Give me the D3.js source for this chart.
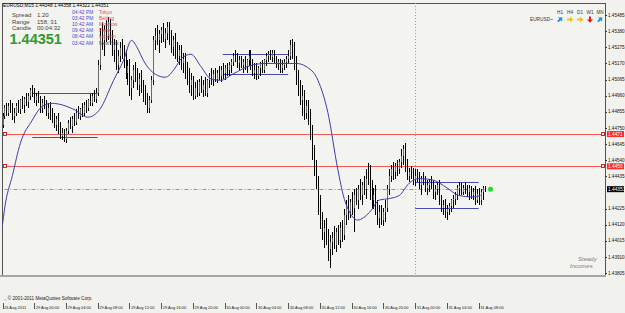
<!DOCTYPE html>
<html>
<head>
<meta charset="utf-8">
<script src="https://cdn.jsdelivr.net/npm/d3@7"></script>
<style>
	body { margin: 0; background: #f1f1ed; }
	svg { display: block; }
	text { font-family: 'Liberation Sans', Arial, sans-serif; }
</style>
</head>
<body>
<div id="chart"></div>
<script>
// ? EURUSD M15, one row per bar: open, high, low, close
const ohlc = [
	[1.4477,1.4485,1.4475,1.4483],[1.4483,1.4490,1.4481,1.4488],[1.4488,1.4491,1.4483,1.4485],[1.4485,1.4491,1.4483,1.4489],
	[1.4489,1.4493,1.4485,1.4487],[1.4487,1.4491,1.4480,1.4483],[1.4483,1.4488,1.4478,1.4485],[1.4485,1.4491,1.4483,1.4489],
	[1.4489,1.4493,1.4485,1.4487],[1.4487,1.4494,1.4484,1.4493],[1.4493,1.4496,1.4487,1.4490],[1.4490,1.4495,1.4485,1.4494],
	[1.4494,1.4498,1.4489,1.4492],[1.4492,1.4498,1.4488,1.4496],[1.4496,1.4501,1.4493,1.4500],[1.4500,1.4503,1.4495,1.4498],
	[1.4498,1.4501,1.4491,1.4493],[1.4493,1.4498,1.4489,1.4496],[1.4496,1.4499,1.4491,1.4493],[1.4493,1.4496,1.4485,1.4488],
	[1.4488,1.4494,1.4485,1.4491],[1.4491,1.4496,1.4487,1.4489],[1.4489,1.4493,1.4483,1.4485],[1.4485,1.4491,1.4481,1.4488],
	[1.4488,1.4492,1.4480,1.4483],[1.4483,1.4488,1.4478,1.4480],[1.4480,1.4485,1.4475,1.4477],[1.4477,1.4483,1.4473,1.4481],
	[1.4481,1.4485,1.4471,1.4474],[1.4474,1.4479,1.4468,1.4470],[1.4470,1.4475,1.4467,1.4472],[1.4472,1.4474,1.4466,1.4468],
	[1.4468,1.4475,1.4465,1.4473],[1.4473,1.4480,1.4471,1.4478],[1.4478,1.4482,1.4474,1.4476],[1.4476,1.4483,1.4472,1.4481],
	[1.4481,1.4485,1.4476,1.4479],[1.4479,1.4487,1.4477,1.4485],[1.4485,1.4489,1.4481,1.4483],[1.4483,1.4488,1.4480,1.4487],
	[1.4487,1.4491,1.4482,1.4485],[1.4485,1.4492,1.4483,1.4490],[1.4490,1.4493,1.4485,1.4488],[1.4488,1.4494,1.4486,1.4493],
	[1.4493,1.4497,1.4489,1.4491],[1.4491,1.4498,1.4489,1.4496],[1.4496,1.4500,1.4492,1.4494],[1.4494,1.4501,1.4491,1.4498],
	[1.4498,1.4519,1.4496,1.4516],[1.4516,1.4540,1.4513,1.4535],[1.4535,1.4544,1.4526,1.4532],[1.4532,1.4542,1.4522,1.4539],
	[1.4539,1.4545,1.4531,1.4535],[1.4535,1.4547,1.4532,1.4544],[1.4544,1.4546,1.4529,1.4532],[1.4532,1.4539,1.4522,1.4526],
	[1.4526,1.4533,1.4518,1.4529],[1.4529,1.4532,1.4513,1.4516],[1.4516,1.4526,1.4511,1.4522],[1.4522,1.4531,1.4518,1.4527],
	[1.4527,1.4533,1.4520,1.4524],[1.4524,1.4529,1.4514,1.4518],[1.4518,1.4526,1.4507,1.4511],[1.4511,1.4519,1.4503,1.4515],
	[1.4515,1.4520,1.4496,1.4501],[1.4501,1.4509,1.4493,1.4506],[1.4506,1.4516,1.4501,1.4513],[1.4513,1.4518,1.4505,1.4507],
	[1.4507,1.4514,1.4500,1.4503],[1.4503,1.4511,1.4496,1.4507],[1.4507,1.4513,1.4498,1.4501],[1.4501,1.4506,1.4492,1.4496],
	[1.4496,1.4503,1.4490,1.4493],[1.4493,1.4498,1.4485,1.4488],[1.4488,1.4496,1.4485,1.4493],[1.4493,1.4509,1.4491,1.4506],
	[1.4506,1.4535,1.4503,1.4532],[1.4532,1.4540,1.4526,1.4535],[1.4535,1.4542,1.4529,1.4532],[1.4532,1.4539,1.4524,1.4536],
	[1.4536,1.4541,1.4530,1.4539],[1.4539,1.4543,1.4531,1.4533],[1.4533,1.4540,1.4527,1.4537],[1.4537,1.4544,1.4532,1.4541],
	[1.4541,1.4544,1.4529,1.4532],[1.4532,1.4539,1.4524,1.4528],[1.4528,1.4535,1.4522,1.4532],[1.4532,1.4537,1.4520,1.4524],
	[1.4524,1.4531,1.4518,1.4522],[1.4522,1.4529,1.4516,1.4526],[1.4526,1.4529,1.4513,1.4517],[1.4517,1.4524,1.4511,1.4520],
	[1.4520,1.4524,1.4507,1.4511],[1.4511,1.4518,1.4503,1.4507],[1.4507,1.4514,1.4498,1.4503],[1.4503,1.4511,1.4496,1.4506],
	[1.4506,1.4509,1.4493,1.4496],[1.4496,1.4505,1.4494,1.4501],[1.4501,1.4506,1.4495,1.4498],[1.4498,1.4507,1.4496,1.4505],
	[1.4505,1.4509,1.4498,1.4500],[1.4500,1.4506,1.4495,1.4503],[1.4503,1.4508,1.4496,1.4498],[1.4498,1.4507,1.4495,1.4506],
	[1.4506,1.4511,1.4501,1.4509],[1.4509,1.4514,1.4503,1.4506],[1.4506,1.4513,1.4502,1.4510],[1.4510,1.4514,1.4505,1.4507],
	[1.4507,1.4513,1.4504,1.4511],[1.4511,1.4515,1.4506,1.4509],[1.4509,1.4515,1.4505,1.4513],[1.4513,1.4517,1.4507,1.4511],
	[1.4511,1.4516,1.4506,1.4514],[1.4514,1.4517,1.4509,1.4513],[1.4513,1.4518,1.4509,1.4516],[1.4516,1.4520,1.4511,1.4518],
	[1.4518,1.4524,1.4515,1.4522],[1.4522,1.4526,1.4518,1.4520],[1.4520,1.4524,1.4514,1.4517],[1.4517,1.4522,1.4513,1.4519],
	[1.4519,1.4522,1.4514,1.4516],[1.4516,1.4520,1.4511,1.4518],[1.4518,1.4522,1.4513,1.4515],[1.4515,1.4520,1.4511,1.4519],
	[1.4519,1.4526,1.4515,1.4522],[1.4522,1.4526,1.4513,1.4515],[1.4515,1.4520,1.4509,1.4511],[1.4511,1.4517,1.4507,1.4513],
	[1.4513,1.4517,1.4506,1.4509],[1.4509,1.4515,1.4507,1.4514],[1.4514,1.4518,1.4509,1.4517],[1.4517,1.4519,1.4511,1.4513],
	[1.4513,1.4520,1.4511,1.4519],[1.4519,1.4524,1.4515,1.4522],[1.4522,1.4525,1.4518,1.4523],[1.4523,1.4526,1.4519,1.4521],
	[1.4521,1.4526,1.4518,1.4524],[1.4524,1.4526,1.4517,1.4519],[1.4519,1.4522,1.4514,1.4517],[1.4517,1.4520,1.4513,1.4518],
	[1.4518,1.4520,1.4511,1.4514],[1.4514,1.4519,1.4511,1.4516],[1.4516,1.4520,1.4513,1.4518],[1.4518,1.4522,1.4514,1.4520],
	[1.4520,1.4526,1.4517,1.4522],[1.4522,1.4532,1.4519,1.4529],[1.4529,1.4533,1.4520,1.4526],[1.4526,1.4531,1.4513,1.4516],
	[1.4516,1.4522,1.4503,1.4506],[1.4506,1.4513,1.4496,1.4500],[1.4500,1.4506,1.4490,1.4493],[1.4493,1.4503,1.4483,1.4496],
	[1.4496,1.4500,1.4480,1.4485],[1.4485,1.4493,1.4481,1.4489],[1.4489,1.4493,1.4477,1.4480],[1.4480,1.4487,1.4467,1.4470],
	[1.4470,1.4477,1.4454,1.4457],[1.4457,1.4464,1.4444,1.4448],[1.4448,1.4454,1.4435,1.4438],[1.4438,1.4444,1.4418,1.4425],
	[1.4425,1.4431,1.4409,1.4414],[1.4414,1.4420,1.4402,1.4407],[1.4407,1.4415,1.4397,1.4410],[1.4410,1.4416,1.4399,1.4402],
	[1.4402,1.4409,1.4388,1.4396],[1.4396,1.4405,1.4384,1.4401],[1.4401,1.4407,1.4392,1.4403],[1.4403,1.4411,1.4396,1.4399],
	[1.4399,1.4410,1.4394,1.4407],[1.4407,1.4412,1.4399,1.4402],[1.4402,1.4414,1.4397,1.4410],[1.4410,1.4415,1.4401,1.4405],
	[1.4405,1.4422,1.4402,1.4418],[1.4418,1.4428,1.4412,1.4425],[1.4425,1.4431,1.4415,1.4420],[1.4420,1.4429,1.4416,1.4427],
	[1.4427,1.4433,1.4418,1.4423],[1.4423,1.4435,1.4407,1.4431],[1.4431,1.4436,1.4425,1.4428],[1.4428,1.4438,1.4422,1.4435],
	[1.4435,1.4442,1.4428,1.4431],[1.4431,1.4440,1.4425,1.4438],[1.4438,1.4444,1.4431,1.4435],[1.4435,1.4448,1.4429,1.4442],
	[1.4442,1.4452,1.4438,1.4441],[1.4441,1.4451,1.4428,1.4431],[1.4431,1.4441,1.4423,1.4428],[1.4428,1.4436,1.4422,1.4431],
	[1.4431,1.4438,1.4418,1.4422],[1.4422,1.4428,1.4412,1.4416],[1.4416,1.4425,1.4410,1.4420],[1.4420,1.4425,1.4412,1.4415],
	[1.4415,1.4423,1.4411,1.4420],[1.4420,1.4428,1.4414,1.4423],[1.4423,1.4438,1.4420,1.4435],[1.4435,1.4448,1.4431,1.4444],
	[1.4444,1.4451,1.4440,1.4448],[1.4448,1.4453,1.4441,1.4446],[1.4446,1.4452,1.4442,1.4450],[1.4450,1.4454,1.4444,1.4448],
	[1.4448,1.4455,1.4445,1.4453],[1.4453,1.4461,1.4449,1.4457],[1.4457,1.4464,1.4451,1.4461],[1.4461,1.4465,1.4446,1.4451],
	[1.4451,1.4455,1.4441,1.4444],[1.4444,1.4449,1.4440,1.4446],[1.4446,1.4450,1.4442,1.4444],[1.4444,1.4449,1.4438,1.4441],
	[1.4441,1.4448,1.4437,1.4444],[1.4444,1.4448,1.4440,1.4441],[1.4441,1.4446,1.4435,1.4438],[1.4438,1.4444,1.4431,1.4442],
	[1.4442,1.4446,1.4438,1.4440],[1.4440,1.4444,1.4433,1.4436],[1.4436,1.4441,1.4431,1.4438],[1.4438,1.4442,1.4433,1.4440],
	[1.4440,1.4444,1.4435,1.4437],[1.4437,1.4441,1.4429,1.4433],[1.4433,1.4438,1.4428,1.4435],[1.4435,1.4440,1.4431,1.4438],
	[1.4438,1.4441,1.4425,1.4428],[1.4428,1.4431,1.4420,1.4423],[1.4423,1.4428,1.4418,1.4425],[1.4425,1.4429,1.4416,1.4420],
	[1.4420,1.4425,1.4415,1.4422],[1.4422,1.4426,1.4418,1.4424],[1.4424,1.4429,1.4420,1.4428],[1.4428,1.4431,1.4423,1.4429],
	[1.4429,1.4433,1.4425,1.4431],[1.4431,1.4438,1.4428,1.4436],[1.4436,1.4440,1.4431,1.4437],[1.4437,1.4439,1.4431,1.4433],
	[1.4433,1.4438,1.4431,1.4436],[1.4436,1.4439,1.4432,1.4435],[1.4435,1.4438,1.4430,1.4433],[1.4433,1.4438,1.4428,1.4436],
	[1.4436,1.4437,1.4429,1.4431],[1.4431,1.4436,1.4428,1.4433],[1.4433,1.4437,1.4425,1.4428],[1.4428,1.4435,1.4426,1.4432],
	[1.4432,1.4436,1.4425,1.4428],[1.4428,1.4435,1.4425,1.4433],[1.4433,1.4437,1.4428,1.4436],[1.4436,1.4437,1.4433,1.4435],
]

// ? smoothed line (bar index, price)
const maBars = [0, 1, 5, 9, 15, 20, 25, 30, 36, 43, 49, 56, 61, 65, 68, 71, 77, 82, 87, 90, 95, 100, 105, 110, 116, 126, 133, 141, 148, 153, 159, 164, 169, 172, 175, 179, 185, 190, 195, 200, 205, 210, 217, 224, 230, 237, 241]
const maVals = [1.4412, 1.4422, 1.4444, 1.4465, 1.4480, 1.4489, 1.4491, 1.4490, 1.4487, 1.4482, 1.4487, 1.4506, 1.4519, 1.4532, 1.4527, 1.4519, 1.4510, 1.4508, 1.4514, 1.4520, 1.4523, 1.4515, 1.4507, 1.4506, 1.4510, 1.4516, 1.4517, 1.4517, 1.4517, 1.4515, 1.4506, 1.4485, 1.4448, 1.4430, 1.4420, 1.4415, 1.4420, 1.4428, 1.4429, 1.4431, 1.4439, 1.4442, 1.4441, 1.4436, 1.4431, 1.4430, 1.4431]

// ? range boxes drawn as two flat lines
const boxFrom = [15, 111, 208]
const boxTo = [48, 144, 240]
const boxHigh = [1.4498, 1.4523, 1.4440]
const boxLow = [1.4469, 1.4510, 1.4423]

const redLevels = [1.4471, 1.4450]
const redLabels = ['1.4471', '1.4450']
const bid = 1.44351
const separatorBar = 208
const dotBar = 246

const priceTicks = [1.45485, 1.45380, 1.45275, 1.45170, 1.45065, 1.44960, 1.44855, 1.44750, 1.44645, 1.44540, 1.44435, 1.44330, 1.44225, 1.44120, 1.44015, 1.43910, 1.43805]
const timeTickBars = [0, 16, 32, 48, 64, 80, 96, 112, 128, 144, 160, 176, 192, 208, 224, 240]
const timeLabels = ['26 Aug 2011', '29 Aug 00:00', '29 Aug 04:00', '29 Aug 08:00', '29 Aug 12:00', '29 Aug 16:00', '29 Aug 20:00', '30 Aug 00:00', '30 Aug 04:00', '30 Aug 08:00', '30 Aug 12:00', '30 Aug 16:00', '30 Aug 20:00', '31 Aug 00:00', '31 Aug 04:00', '31 Aug 08:00']

const lastBar = ['1.44348', '1.44358', '1.44322', '1.44351']
const infoNames = ['Spread', 'Range', 'Candle']
const infoValues = ['1.20', '158, 31', '00:04:32']
const sessionTimes = ['04:42 PM', '03:42 PM', '10:42 AM', '09:42 AM', '08:42 AM', '03:42 AM']
const sessionCities = ['Tokyo', 'Beijing', 'Moscow', 'Paris', 'London', 'NewYork']
const trendFrames = ['H1', 'H4', 'D1', 'W1', 'MN']
const trendDirs = [-45, 0, 0, 90, -45] // ? arrow rotation in degrees
const trendColors = ['#1e90ff', '#f5c400', '#f5c400', '#ee1111', '#1e90ff']

const width = 625
const height = 313
const frameL = 2
const frameR = 605
const frameT = 3
const frameB = 275

const x = d3.scaleLinear().domain([0, 243]).range([2.5, 484.6])
const y = d3.scaleLinear().domain([1.43792, 1.45557]).range([frameB, 4])

const svg = d3
	.create('svg')
	.attr('width', width)
	.attr('height', height)
	.attr('viewBox', [0, 0, width, height])

svg.append('rect').attr('width', width).attr('height', height).attr('fill', '#f1f1ed')

// ? chart frame
svg.append('rect')
	.attr('x', frameL + 0.5)
	.attr('y', frameT + 0.5)
	.attr('width', frameR - frameL)
	.attr('height', frameB - frameT)
	.attr('fill', '#f3f3ef')
	.attr('stroke', '#555')

// ? day separator
svg.append('line')
	.attr('x1', Math.round(x(separatorBar)) + 0.5)
	.attr('x2', Math.round(x(separatorBar)) + 0.5)
	.attr('y1', frameT)
	.attr('y2', frameB)
	.attr('stroke', '#9a9a9a')
	.attr('stroke-dasharray', '1,2')

// ? red levels
const lv = svg.append('g')
lv.selectAll('line')
	.data(redLevels)
	.join('line')
	.attr('x1', frameL + 1)
	.attr('x2', frameR)
	.attr('y1', (d) => Math.round(y(d)) + 0.5)
	.attr('y2', (d) => Math.round(y(d)) + 0.5)
	.attr('stroke', '#f25a5a')
lv.selectAll('rect.l')
	.data(redLevels)
	.join('rect')
	.attr('class', 'l')
	.attr('x', frameL + 1.5)
	.attr('y', (d) => Math.round(y(d)) - 1.5)
	.attr('width', 3)
	.attr('height', 3)
	.attr('fill', '#fff')
	.attr('stroke', '#e02020')
lv.selectAll('rect.r')
	.data(redLevels)
	.join('rect')
	.attr('class', 'r')
	.attr('x', frameR - 3.5)
	.attr('y', (d) => Math.round(y(d)) - 1.5)
	.attr('width', 3)
	.attr('height', 3)
	.attr('fill', '#fff')
	.attr('stroke', '#e02020')

// ? bid line (dash-dot)
svg.append('line')
	.attr('x1', x(1))
	.attr('x2', x(243))
	.attr('y1', Math.round(y(bid)) + 0.5)
	.attr('y2', Math.round(y(bid)) + 0.5)
	.attr('stroke', '#e8707a')
	.attr('stroke-dasharray', '4,2,1,2')

// ? range boxes
const bx = svg.append('g').attr('stroke', '#4a4ab0')
boxFrom.forEach((b, i) => {
	;[boxHigh[i], boxLow[i]].forEach((p) => {
		bx.append('line')
			.attr('x1', x(b))
			.attr('x2', x(boxTo[i]))
			.attr('y1', Math.round(y(p)) + 0.5)
			.attr('y2', Math.round(y(p)) + 0.5)
	})
})

// ? candles, 1px wide like the terminal at this zoom
const cg = svg.append('g').attr('shape-rendering', 'crispEdges')
cg.selectAll('line')
	.data(ohlc)
	.join('line')
	.attr('x1', (d, i) => Math.round(x(i)) + 0.5)
	.attr('x2', (d, i) => Math.round(x(i)) + 0.5)
	.attr('y1', (d) => y(d[1]))
	.attr('y2', (d) => y(d[2]))
	.attr('stroke', '#000')
cg.selectAll('rect')
	.data(ohlc)
	.join('rect')
	.attr('x', (d, i) => Math.round(x(i)))
	.attr('width', 1)
	.attr('y', (d) => y(Math.max(d[0], d[3])))
	.attr('height', (d) => Math.max(1, Math.abs(y(d[0]) - y(d[3]))))
	.attr('fill', (d) => (d[3] >= d[0] ? '#6a6a6a' : '#000'))

// ? smoothed line
svg.append('path')
	.attr('fill', 'none')
	.attr('stroke', '#3c3caa')
	.attr('stroke-width', 1)
	.attr('d', d3.line().x((d, i) => x(maBars[i])).y((d) => y(d)).curve(d3.curveMonotoneX)(maVals))

svg.append('circle')
	.attr('cx', x(dotBar))
	.attr('cy', y(bid))
	.attr('r', 2.5)
	.attr('fill', '#22dd22')

// ? price axis (the bid label hides the tick under it)
const shownTicks = priceTicks.filter((d) => Math.abs(y(d) - y(bid)) > 6)
const ax = svg.append('g').attr('font-size', 4.6).attr('fill', '#111')
ax.selectAll('line')
	.data(shownTicks)
	.join('line')
	.attr('x1', frameR)
	.attr('x2', frameR + 2)
	.attr('y1', (d) => Math.round(y(d)) + 0.5)
	.attr('y2', (d) => Math.round(y(d)) + 0.5)
	.attr('stroke', '#333')
ax.selectAll('text')
	.data(shownTicks)
	.join('text')
	.attr('x', frameR + 3)
	.attr('y', (d) => y(d) + 1.7)
	.text((d) => d.toFixed(5))

redLevels.forEach((p, i) => {
	svg.append('rect')
		.attr('x', frameR + 2)
		.attr('y', y(p) - 3)
		.attr('width', width - frameR - 3)
		.attr('height', 6)
		.attr('fill', '#ff2a2a')
	svg.append('text')
		.attr('x', frameR + 3)
		.attr('y', y(p) + 1.8)
		.attr('font-size', 4.8)
		.attr('fill', '#fff')
		.text(redLabels[i])
})
svg.append('rect')
	.attr('x', frameR + 2)
	.attr('y', y(bid) - 3)
	.attr('width', width - frameR - 3)
	.attr('height', 6)
	.attr('fill', '#000')
svg.append('text')
	.attr('x', frameR + 3)
	.attr('y', y(bid) + 1.8)
	.attr('font-size', 4.8)
	.attr('fill', '#fff')
	.text(bid.toFixed(5))

// ? bottom band
svg.append('rect').attr('x', 0).attr('y', frameB).attr('width', frameR + 1).attr('height', 2).attr('fill', '#a6a6a6')

// ? time axis
const tx = svg.append('g').attr('font-size', 4).attr('fill', '#222')
tx.selectAll('line')
	.data(timeTickBars)
	.join('line')
	.attr('x1', (d) => Math.round(x(d)) + 0.5)
	.attr('x2', (d) => Math.round(x(d)) + 0.5)
	.attr('y1', 303)
	.attr('y2', 309)
	.attr('stroke', '#555')
tx.selectAll('text')
	.data(timeLabels)
	.join('text')
	.attr('x', (d, i) => x(timeTickBars[i]) + 1.5)
	.attr('y', 309)
	.text((d) => d)

svg.append('text').attr('x', 4).attr('y', 300).attr('font-size', 4.6).attr('fill', '#222')
	.text('., \u00a9 2001-2011 MetaQuotes Software Corp.')

// ? header + info panel
svg.append('text').attr('x', 3).attr('y', 6.5).attr('font-size', 4.8).attr('fill', '#000')
	.text('EURUSD,M15  ' + lastBar.join(' '))

const info = svg.append('g').attr('font-size', 6).attr('fill', '#444')
infoNames.forEach((n, i) => {
	info.append('text').attr('x', 12).attr('y', 17 + i * 6.6).text(n)
	info.append('text').attr('x', 37).attr('y', 17 + i * 6.6).text(infoValues[i])
})
svg.append('text')
	.attr('x', 9.5)
	.attr('y', 43.5)
	.attr('font-size', 14.5)
	.attr('font-weight', 'bold')
	.attr('fill', '#2f9a2f')
	.text(bid.toFixed(5))

const ses = svg.append('g').attr('font-size', 5)
sessionTimes.forEach((t, i) => {
	ses.append('text').attr('x', 72).attr('y', 13.5 + i * 6.2).attr('fill', '#4b4bdd').text(t)
	ses.append('text').attr('x', 99).attr('y', 13.5 + i * 6.2)
		.attr('fill', i < 5 ? '#e8505a' : '#555').text(sessionCities[i])
})

// ? trend panel
const tp = svg.append('g')
tp.append('text').attr('x', 553).attr('y', 21).attr('font-size', 4.8).attr('text-anchor', 'end').attr('fill', '#333').text('EURUSD~')
trendFrames.forEach((f, i) => {
	const cx = 560 + i * 10
	tp.append('text').attr('x', cx).attr('y', 14).attr('font-size', 4.6).attr('text-anchor', 'middle').attr('fill', '#333').text(f)
	tp.append('path')
		.attr('d', 'M-3,-1 L0,-1 L0,-3 L3.2,0 L0,3 L0,1 L-3,1 Z')
		.attr('transform', `translate(${cx},19.5) rotate(${trendDirs[i]})`)
		.attr('fill', trendColors[i])
})

// ? watermark
const wm = svg.append('g').attr('fill', '#7a7f8a').attr('font-style', 'italic')
wm.append('text').attr('x', 578).attr('y', 261).attr('font-size', 6).text('Steady')
wm.append('text').attr('x', 570).attr('y', 268).attr('font-size', 6).text('Incomes')

document.getElementById('chart').appendChild(svg.node())
</script>
</body>
</html>
